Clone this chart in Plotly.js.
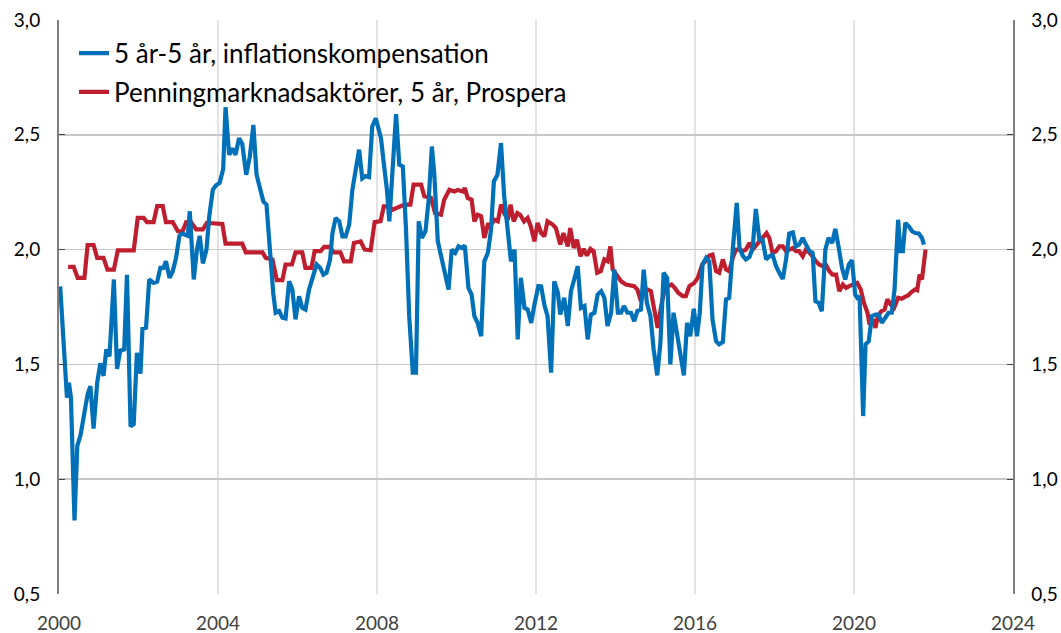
<!DOCTYPE html>
<html>
<head>
<meta charset="utf-8">
<script src="https://cdn.plot.ly/plotly-3.0.1.min.js"></script>
<style>html,body{margin:0;padding:0;background:#fff;}#chart{width:1061px;height:633px;}</style>
</head>
<body>
<div id="chart"></div>
<script>
// Series names
const blueName = "5 år-5 år, inflationskompensation";
const redName = "Penningmarknadsaktörer, 5 år, Prospera";

// Blue: time (decimal year) and values
const blueYears = [2000.03,2000.20,2000.25,2000.30,2000.39,2000.46,2000.54,2000.64,2000.72,2000.79,2000.87,2000.96,
2001.04,2001.12,2001.19,2001.27,2001.38,2001.46,2001.54,2001.64,2001.71,2001.80,2001.88,2001.96,
2002.05,2002.10,2002.19,2002.27,2002.38,2002.47,2002.55,2002.63,2002.69,2002.78,2002.86,2002.94,
2003.03,2003.09,2003.17,2003.24,2003.29,2003.39,2003.47,2003.54,2003.62,2003.71,2003.78,2003.87,2003.95,
2004.04,2004.13,2004.19,2004.28,2004.36,2004.44,2004.53,2004.61,2004.71,2004.80,2004.89,2004.97,
2005.06,2005.14,2005.22,2005.31,2005.39,2005.45,2005.54,2005.62,2005.70,2005.79,2005.87,2005.95,
2006.04,2006.12,2006.20,2006.29,2006.40,2006.48,2006.57,2006.65,2006.73,2006.82,2006.88,2006.96,
2007.05,2007.13,2007.21,2007.30,2007.38,2007.46,2007.55,2007.63,2007.71,2007.80,2007.88,2007.97,
2008.10,2008.17,2008.25,2008.31,2008.39,2008.48,2008.56,2008.65,2008.73,2008.81,2008.90,2008.98,
2009.05,2009.13,2009.22,2009.30,2009.38,2009.44,2009.53,2009.61,2009.71,2009.80,2009.88,2009.97,
2010.05,2010.13,2010.21,2010.30,2010.38,2010.45,2010.53,2010.62,2010.70,2010.79,2010.87,2010.94,
2011.03,2011.12,2011.20,2011.29,2011.37,2011.46,2011.54,2011.62,2011.71,2011.79,2011.88,2011.96,
2012.06,2012.13,2012.21,2012.29,2012.38,2012.46,2012.55,2012.61,2012.71,2012.80,2012.88,2012.96,
2013.05,2013.13,2013.22,2013.30,2013.38,2013.47,2013.55,2013.64,2013.72,2013.80,2013.89,2013.97,
2014.06,2014.14,2014.21,2014.30,2014.39,2014.47,2014.55,2014.64,2014.71,2014.79,2014.88,2014.96,
2015.05,2015.13,2015.21,2015.30,2015.38,2015.46,2015.55,2015.63,2015.72,2015.80,2015.88,2015.97,
2016.05,2016.12,2016.19,2016.28,2016.36,2016.44,2016.53,2016.61,2016.70,2016.78,2016.86,2016.95,
2017.05,2017.12,2017.20,2017.28,2017.37,2017.45,2017.53,2017.62,2017.70,2017.79,2017.87,2017.95,
2018.04,2018.12,2018.21,2018.29,2018.37,2018.46,2018.54,2018.62,2018.71,2018.79,2018.88,2018.96,
2019.03,2019.11,2019.19,2019.28,2019.36,2019.45,2019.53,2019.61,2019.70,2019.78,2019.87,2019.95,
2020.03,2020.08,2020.14,2020.23,2020.29,2020.37,2020.45,2020.54,2020.62,2020.70,2020.79,2020.87,2020.95,
2021.02,2021.11,2021.17,2021.23,2021.29,2021.38,2021.46,2021.54,2021.63,2021.71,2021.76];
const blueValues = [1.84,1.355,1.42,1.355,0.82,1.145,1.19,1.30,1.37,1.405,1.22,1.42,
1.505,1.45,1.565,1.535,1.87,1.48,1.56,1.565,1.89,1.23,1.24,1.55,
1.46,1.655,1.66,1.87,1.855,1.86,1.92,1.92,1.95,1.877,1.905,1.96,
2.06,2.07,2.065,2.06,2.167,1.87,2.0,2.06,1.94,2.0,2.145,2.26,2.28,
2.29,2.35,2.62,2.413,2.44,2.413,2.485,2.46,2.326,2.405,2.543,2.326,
2.268,2.21,2.196,1.97,1.81,1.725,1.732,1.703,1.70,1.862,1.826,1.696,
1.797,1.746,1.739,1.826,1.891,1.935,1.92,1.891,1.899,1.957,2.072,2.138,
2.123,2.058,2.058,2.109,2.26,2.333,2.435,2.31,2.32,2.316,2.536,2.572,
2.485,2.377,2.26,2.123,2.362,2.59,2.37,2.362,2.087,1.71,1.464,1.464,
2.123,2.051,2.08,2.217,2.449,2.333,2.036,1.971,1.884,1.826,2.0,1.986,
2.014,2.007,2.017,1.833,1.804,1.71,1.681,1.623,1.949,1.986,2.087,2.297,
2.326,2.464,2.232,2.072,1.949,2.0,1.609,1.877,1.746,1.739,1.681,1.76,
1.841,1.84,1.76,1.71,1.464,1.862,1.812,1.717,1.79,1.667,1.819,1.87,
1.928,1.746,1.754,1.609,1.717,1.725,1.804,1.819,1.79,1.667,1.725,1.913,
1.725,1.725,1.754,1.725,1.725,1.688,1.732,1.739,1.913,1.768,1.71,1.565,
1.452,1.594,1.899,1.877,1.5,1.725,1.623,1.536,1.452,1.681,1.623,1.742,
1.623,1.725,1.935,1.964,1.949,1.696,1.601,1.587,1.597,1.783,1.79,2.0,
2.203,2.007,1.974,1.957,1.968,2.007,2.177,2.043,2.043,1.957,1.971,1.978,
1.928,1.899,1.872,1.957,2.07,2.075,2.014,2.022,2.051,2.022,1.993,1.986,
1.775,1.768,1.732,2.0,2.051,2.029,2.09,2.014,1.92,1.87,1.935,1.954,
1.804,1.79,1.797,1.275,1.587,1.601,1.71,1.717,1.717,1.681,1.703,1.725,1.725,
1.826,2.13,1.993,1.993,2.116,2.101,2.08,2.072,2.07,2.051,2.022];

// Red: time (decimal year) and values
const redYears = [2000.23,2000.37,2000.47,2000.64,2000.72,2000.87,2000.96,2001.12,2001.22,2001.38,2001.48,2001.88,
2001.98,2002.13,2002.21,2002.38,2002.47,2002.61,2002.69,2002.86,2002.99,2003.11,2003.20,2003.32,2003.45,2003.62,
2003.72,2004.11,2004.19,2004.61,2004.70,2005.12,2005.20,2005.37,2005.48,2005.62,2005.70,2005.86,2005.95,2006.12,
2006.20,2006.35,2006.43,2006.58,2006.67,2006.82,2006.90,2007.08,2007.17,2007.34,2007.42,2007.59,2007.69,2007.84,
2007.94,2008.09,2008.17,2008.31,2008.39,2008.69,2008.84,2008.92,2009.11,2009.19,2009.36,2009.46,2009.61,2009.69,
2009.82,2009.95,2010.03,2010.16,2010.21,2010.28,2010.38,2010.45,2010.53,2010.62,2010.70,2010.79,2010.87,2010.95,
2011.04,2011.12,2011.20,2011.29,2011.36,2011.44,2011.53,2011.60,2011.70,2011.79,2011.87,2011.96,
2012.04,2012.13,2012.21,2012.29,2012.42,2012.50,2012.61,2012.69,2012.80,2012.86,2012.95,
2013.03,2013.12,2013.20,2013.28,2013.37,2013.45,2013.54,2013.63,2013.72,2013.80,2013.87,2013.93,
2014.04,2014.14,2014.26,2014.39,2014.47,2014.55,2014.64,2014.72,2014.81,2014.89,2014.98,
2015.06,2015.15,2015.25,2015.33,2015.41,2015.49,2015.58,2015.69,2015.77,2015.86,2015.98,
2016.07,2016.18,2016.26,2016.36,2016.44,2016.53,2016.61,2016.70,2016.78,2016.86,2016.95,
2017.03,2017.12,2017.20,2017.28,2017.37,2017.45,2017.53,2017.62,2017.70,2017.80,2017.87,2017.95,
2018.04,2018.12,2018.21,2018.29,2018.37,2018.46,2018.54,2018.62,2018.71,2018.79,2018.88,2018.96,
2019.04,2019.12,2019.21,2019.29,2019.38,2019.46,2019.55,2019.63,2019.72,2019.80,2019.88,2019.97,
2020.08,2020.17,2020.25,2020.34,2020.39,2020.48,2020.54,2020.60,2020.69,2020.77,2020.84,2020.92,
2021.01,2021.11,2021.20,2021.28,2021.36,2021.44,2021.53,2021.59,2021.65,2021.71,2021.76,2021.80];
const redValues = [1.925,1.925,1.877,1.877,2.02,2.02,1.964,1.964,1.913,1.913,1.997,1.997,
2.138,2.138,2.12,2.12,2.19,2.19,2.12,2.12,2.08,2.08,2.12,2.12,2.088,2.088,
2.116,2.112,2.026,2.026,1.988,1.988,1.964,1.957,1.867,1.867,1.935,1.935,1.988,1.988,
1.92,1.92,1.993,1.993,2.012,2.012,1.988,1.988,1.949,1.949,2.029,2.036,2.0,1.997,
2.12,2.124,2.188,2.188,2.174,2.196,2.196,2.283,2.283,2.232,2.225,2.159,2.152,2.217,
2.26,2.253,2.26,2.253,2.268,2.225,2.217,2.123,2.152,2.145,2.051,2.109,2.109,2.13,
2.123,2.196,2.159,2.13,2.196,2.123,2.159,2.152,2.123,2.138,2.101,2.036,
2.116,2.072,2.058,2.123,2.109,2.094,2.022,2.072,2.014,2.094,2.007,
2.043,1.971,2.003,1.974,2.003,1.993,1.899,1.906,1.957,1.949,2.014,1.913,
1.887,1.862,1.848,1.841,1.841,1.826,1.775,1.819,1.826,1.819,1.739,
1.659,1.754,1.841,1.841,1.848,1.833,1.812,1.797,1.797,1.841,1.855,
1.877,1.935,1.949,1.974,1.978,1.906,1.899,1.957,1.913,1.906,1.964,
2.0,2.0,1.993,2.0,2.029,2.0,2.014,2.036,2.051,2.072,2.051,1.986,
1.993,2.014,2.014,1.993,2.0,2.007,1.993,1.993,1.971,2.0,1.986,1.971,
1.949,1.935,1.928,1.935,1.906,1.891,1.891,1.819,1.848,1.833,1.841,1.848,
1.855,1.826,1.768,1.725,1.674,1.696,1.659,1.71,1.732,1.739,1.783,1.761,
1.746,1.79,1.786,1.794,1.80,1.814,1.826,1.823,1.891,1.87,1.971,2.0];

// Axis ticks
const xTicks = [2000, 2004, 2008, 2012, 2016, 2020, 2024];
const yTicks = [0.5, 1.0, 1.5, 2.0, 2.5, 3.0];

const FONT = "Lato, 'Open Sans', sans-serif";

const traces = [
  // blue drawn on the (identical) right-hand axis so it sits on top of the red line
  {x: blueYears, y: blueValues, name: blueName, type: "scatter", mode: "lines", yaxis: "y2",
   legendgroup: "a", line: {color: "#0070b8", width: 4.2}},
  {x: redYears, y: redValues, name: redName, type: "scatter", mode: "lines", yaxis: "y",
   legendgroup: "b", line: {color: "#be1e2d", width: 4.2}}
];

const yCommon = {
  range: [0.5, 3.0], tickvals: yTicks, ticktext: yTicks.map(v => v.toFixed(1).replace(".", ",")),
  tickfont: {family: FONT, size: 19, color: "#000000"},
  ticks: "inside", ticklen: 6, tickcolor: "#404040", tickwidth: 1,
  ticklabelstandoff: 13,
  showline: true, linecolor: "#7f7f7f", zeroline: false, fixedrange: true
};

const layout = {
  width: 1061, height: 633,
  margin: {l: 59, r: 48, t: 20, b: 39},
  paper_bgcolor: "#ffffff", plot_bgcolor: "#ffffff",
  showlegend: true,
  legend: {x: 0.0157, y: 0.983, xanchor: "left", yanchor: "top",
           font: {family: FONT, size: 26, color: "#000000"},
           bgcolor: "rgba(0,0,0,0)", itemwidth: 30, traceorder: "grouped", tracegroupgap: 2},
  xaxis: {range: [2000, 2024], tickvals: xTicks, ticktext: xTicks.map(String),
          tickfont: {family: FONT, size: 19, color: "#404040"}, ticks: "", ticklabelstandoff: 16,
          showline: false, showgrid: true, gridcolor: "#e3e3e3", gridwidth: 1.5,
          zeroline: false, fixedrange: true},
  yaxis: Object.assign({}, yCommon, {side: "left", linewidth: 2, showgrid: true, gridcolor: "#c8c8c8", gridwidth: 1.5}),
  yaxis2: Object.assign({}, yCommon, {side: "right", overlaying: "y", linewidth: 1.5, showgrid: false, anchor: "x"})
};

Plotly.newPlot("chart", traces, layout, {staticPlot: true, displayModeBar: false});
</script>
</body>
</html>
